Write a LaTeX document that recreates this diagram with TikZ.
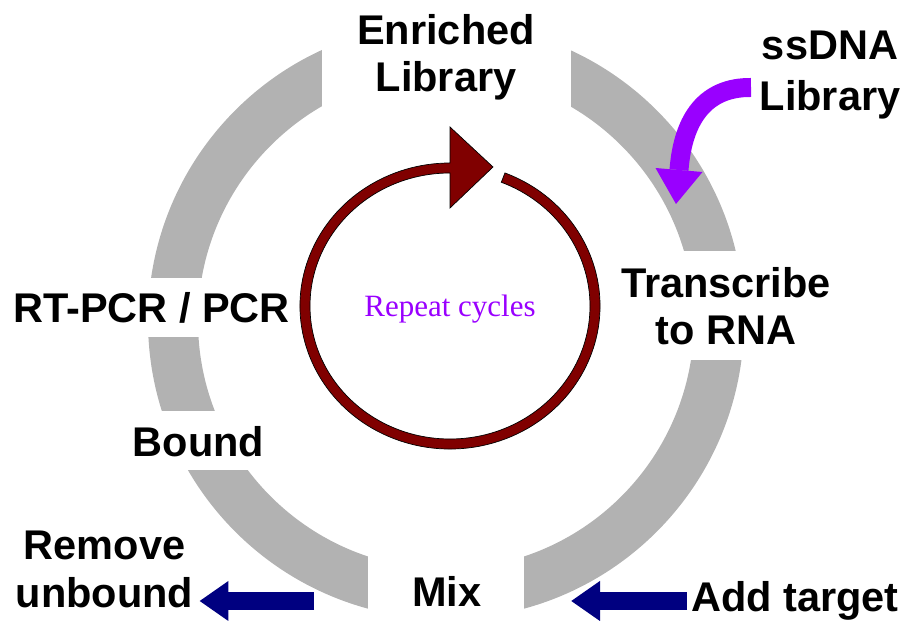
\documentclass[tikz,border=0pt]{standalone}
\usepackage{fontspec}
\setmainfont{Liberation Sans}
\newfontfamily\serifface{Liberation Serif}
\usetikzlibrary{arrows.meta}
\definecolor{ringgray}{HTML}{B2B2B2}
\definecolor{cycred}{HTML}{800000}
\definecolor{sspurple}{HTML}{9900FF}
\definecolor{navyblue}{HTML}{000080}
\begin{document}
\begin{tikzpicture}[x=1pt,y=1pt,
  ring/.style={draw=ringgray, line width=50pt},
  mask/.style={fill=white},
  lbl/.style={inner sep=0pt, align=center, font={\fontsize{41.5}{47}\selectfont\bfseries}},
  navyarrow/.style={draw=navyblue, line width=18pt, -{Triangle[width=38pt,length=29pt]}},
  purplearrow/.style={draw=sspurple, line width=19pt},
  cyclearrow/.style={fill=cycred, draw=black, line width=0.7pt}]
\useasboundingbox (0,0) rectangle (906,621);
% gray cycle ring
\draw[ring] (446,300) circle (273);
% gaps for the labels
\fill[mask] (322,480) rectangle (571,621);
\fill[mask] (640,261) rectangle (906,370);
\fill[mask] (368,0) rectangle (524,81);
\fill[mask] (100,284) rectangle (270,343);
\fill[mask] (100,151) rectangle (280,210);
% repeat-cycles arrow
\begin{scope}[shift={(450,315)}]
\filldraw[cyclearrow]
  (68.5:150 and 143) arc[start angle=68.5, end angle=-270, x radius=150, y radius=143]
  -- (0,179) -- (43,139) -- (0,98) -- (0,133)
  arc[start angle=-270, end angle=68.5, x radius=140, y radius=133] -- cycle;
\end{scope}
% labels
\node[lbl] (enriched) at (446,563.5) {Enriched\\Library};
\node[lbl, font={\fontsize{41.5}{51}\selectfont\bfseries}] (ssdna) at (830,546) {ssDNA\\Library};
\node[lbl, font={\fontsize{41.5}{47.5}\selectfont\bfseries}] (transcribe) at (726,315) {Transcribe\\to RNA};
\node[lbl, anchor=base] (rtpcr) at (151.5,298) {RT-PCR / PCR};
\node[lbl, anchor=base] (bound) at (198.5,164) {Bound};
\node[lbl, font={\fontsize{41.5}{48}\selectfont\bfseries}] (remove) at (104.5,52) {Remove\\unbound};
\node[lbl, anchor=base] (mix) at (447,14) {Mix};
\node[lbl, anchor=base] (addtarget) at (795,9) {Add target};
\node[inner sep=0pt, anchor=base, text=sspurple, font={\serifface\fontsize{31}{37}\selectfont}] (repeat) at (450,304) {Repeat cycles};
% purple arrow: ssDNA library enters the cycle
\coordinate (ssstart) at (751,533.5);
\coordinate (sshead) at (679,451);
\draw[purplearrow] (ssstart) .. controls (706,534) and (683,503) .. (sshead);
\fill[sspurple] (655.5,453) -- (676,417) -- (702.5,449) -- cycle;
% navy arrows
\coordinate (addstart) at (687,20);
\coordinate (addtip) at (571,20);
\draw[navyarrow] (addstart) -- (addtip);
\coordinate (rmstart) at (314,20);
\path (remove.east |- rmstart) ++(6,0) coordinate (rmtip);
\draw[navyarrow] (rmstart) -- (rmtip);
\end{tikzpicture}
\end{document}
